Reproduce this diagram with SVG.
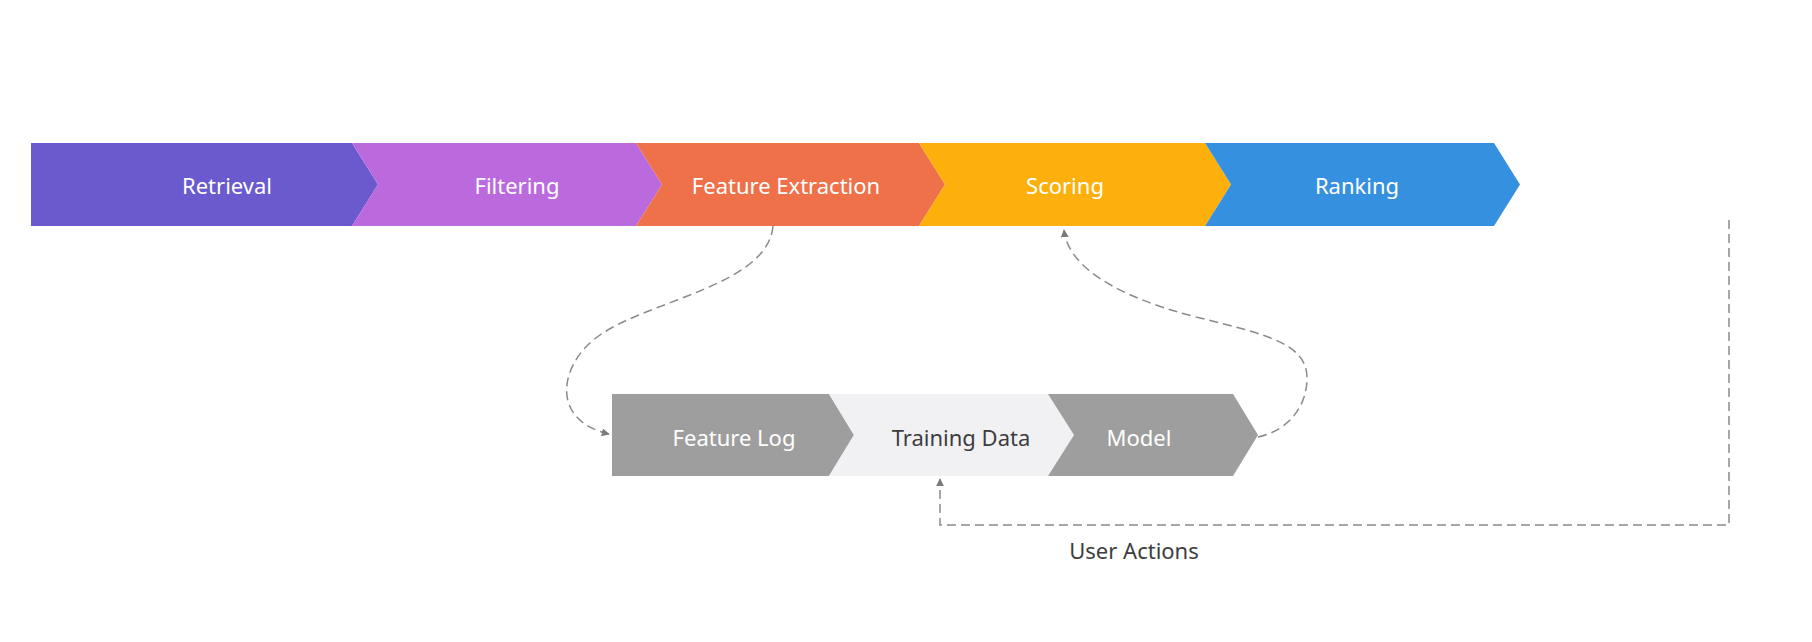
<svg xmlns="http://www.w3.org/2000/svg" width="1812" height="642" viewBox="0 0 1812 642">
<style>
.lbl{font-family:"Noto Sans","Open Sans","DejaVu Sans",sans-serif;font-size:22px;text-anchor:middle;dominant-baseline:central;fill:#ffffff}
.dark{fill:#3d3d3d}
.conn{fill:none;stroke:#8a8a8a;stroke-width:1.5;stroke-dasharray:9 5}
.note{font-family:"Noto Sans","Open Sans","DejaVu Sans",sans-serif;font-size:22px;text-anchor:middle;dominant-baseline:central;fill:#3d3d3d}
</style>
<defs>
<marker id="arr" viewBox="0 0 10 10" refX="9" refY="5" markerWidth="8" markerHeight="8" markerUnits="userSpaceOnUse" orient="auto">
<path d="M0,0 L10,5 L0,10 z" fill="#7a7a7a"/>
</marker>
</defs>
<rect width="1812" height="642" fill="#ffffff"/>
<g id="retrieval">
<polygon points="31,143 352,143 378,184.5 352,226 31,226" fill="#6a5acd"/>
<text class="lbl" x="227" y="185">Retrieval</text>
</g>
<g id="filtering">
<polygon points="352,143 636,143 662,184.5 636,226 352,226 378,184.5" fill="#bb6ade"/>
<text class="lbl" x="517" y="185">Filtering</text>
</g>
<g id="feature-extraction">
<polygon points="636,143 919,143 945,184.5 919,226 636,226 662,184.5" fill="#ef7149"/>
<text class="lbl" x="786" y="185">Feature Extraction</text>
</g>
<g id="scoring">
<polygon points="919,143 1205,143 1231,184.5 1205,226 919,226 945,184.5" fill="#fdb00c"/>
<text class="lbl" x="1065" y="185">Scoring</text>
</g>
<g id="ranking">
<polygon points="1205,143 1494,143 1520,184.5 1494,226 1205,226 1231,184.5" fill="#3591df"/>
<text class="lbl" x="1357" y="185">Ranking</text>
</g>
<g id="feature-log">
<polygon points="612,394 829,394 854,435 829,476 612,476" fill="#9e9e9e"/>
<text class="lbl" x="734" y="437">Feature Log</text>
</g>
<g id="training-data">
<polygon points="829,394 1048,394 1074,435 1048,476 829,476 854,435" fill="#f1f1f4"/>
<text class="lbl dark" x="961" y="437">Training Data</text>
</g>
<g id="model">
<polygon points="1048,394 1233,394 1258,435 1233,476 1048,476 1074,435" fill="#9e9e9e"/>
<text class="lbl" x="1139" y="437">Model</text>
</g>
<g id="connectors">
<path class="conn" d="M773,226 C768,285 650,300 600,335 C560,362 548,420 609,434" marker-end="url(#arr)"/>
<path class="conn" d="M1258,437 C1290,430 1307,405 1307,378 C1307,345 1270,335 1200,318 C1120,298 1068,268 1064,230" marker-end="url(#arr)"/>
<path class="conn" d="M1729,220 V525 H940 V479" marker-end="url(#arr)"/>
<text class="note" x="1134" y="550">User Actions</text>
</g>
</svg>
